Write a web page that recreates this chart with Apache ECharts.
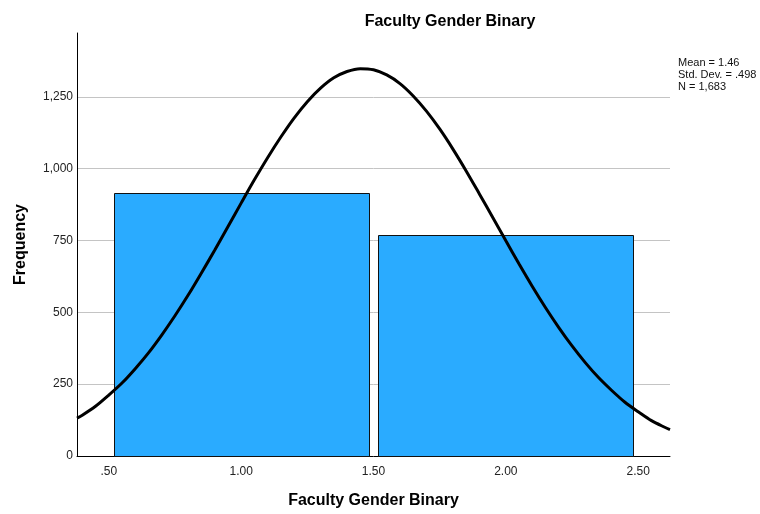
<!DOCTYPE html>
<html><head><meta charset="utf-8">
<script src="https://cdn.jsdelivr.net/npm/echarts@6/dist/echarts.min.js"></script>
<style>html,body{margin:0;padding:0;background:#fff}#c{width:760px;height:514px}</style>
</head><body><div id="c"></div>
<script>
// Histogram bins [start, end] and frequencies
const binStart = [0.5, 1.5];
const binEnd = [1.5, 2.5];
const freq = [915, 768];
// Normal curve
const curveX = [0.38,0.4,0.45,0.5,0.55,0.6,0.65,0.7,0.75,0.8,0.85,0.9,0.95,1.0,1.05,1.1,1.15,1.2,1.25,1.3,1.35,1.4,1.45,1.5,1.55,1.6,1.65,1.7,1.75,1.8,1.85,1.9,1.95,2.0,2.05,2.1,2.15,2.2,2.25,2.3,2.35,2.4,2.45,2.5,2.55,2.6,2.62];
const curveY = [132,142,173,212,254,304,359,421,488,560,637,716,798,880,961,1038,1110,1176,1233,1280,1316,1338,1348,1344,1326,1296,1253,1200,1138,1068,992,912,831,749,668,590,516,447,383,325,273,228,187,154,123,100,92];
const xTicks = [0.5, 1.0, 1.5, 2.0, 2.5];
const yTicks = [0, 250, 500, 750, 1000, 1250];
const gridVals = [250, 500, 750, 1000, 1250];
const statsLines = ['Mean = 1.46', 'Std. Dev. = .498', 'N = 1,683'];
const title = 'Faculty Gender Binary';
const xName = 'Faculty Gender Binary';
const yName = 'Frequency';

const FONT = 'Liberation Sans, Arial, sans-serif';
const chart = echarts.init(document.getElementById('c'), null, {renderer: 'canvas'});
const barData = binStart.map((s, i) => [s, binEnd[i], freq[i]]);
const curveData = curveX.map((x, i) => [x, curveY[i]]);

chart.setOption({
  animation: false,
  backgroundColor: '#fff',
  title: {text: title, left: 445, top: 9, textAlign: 'center',
    textStyle: {fontFamily: FONT, fontSize: 16, fontWeight: 'bold', color: '#000'}},
  grid: {left: 77, right: 90, top: 33, bottom: 50, containLabel: false},
  xAxis: {type: 'value', min: 0.38, max: 2.62,
    name: xName, nameLocation: 'middle', nameGap: 37,
    nameTextStyle: {fontFamily: FONT, fontSize: 16, fontWeight: 'bold', color: '#000'},
    axisLine: {show: true, lineStyle: {color: '#000', width: 1}},
    axisTick: {show: false}, splitLine: {show: false},
    axisLabel: {customValues: xTicks, fontFamily: FONT, fontSize: 12, color: '#222', margin: 10,
      formatter: v => v.toFixed(2).replace(/^0/, '')}},
  yAxis: {type: 'value', min: 0, max: 1472,
    name: yName, nameLocation: 'middle', nameGap: 48, nameRotate: 90,
    nameTextStyle: {fontFamily: FONT, fontSize: 16, fontWeight: 'bold', color: '#000'},
    axisLine: {show: true, lineStyle: {color: '#000', width: 1}},
    axisTick: {show: false}, splitLine: {show: false},
    axisLabel: {customValues: yTicks, fontFamily: FONT, fontSize: 12, color: '#222', margin: 4,
      formatter: v => v.toLocaleString('en-US')}},
  series: [
    {type: 'line', data: [], z: 0, silent: true,
     markLine: {silent: true, z: 0, symbol: 'none', label: {show: false},
       lineStyle: {color: '#c4c4c4', width: 1, type: 'solid'},
       data: gridVals.map(v => ({yAxis: v}))}},
    {type: 'custom', z: 2, data: barData,
     renderItem: (params, api) => {
       const p0 = api.coord([api.value(0), api.value(2)]);
       const p1 = api.coord([api.value(1), 0]);
       const inset = 5;
       return {type: 'rect', shape: {x: Math.round(p0[0] + inset) + 0.5, y: Math.round(p0[1]) + 0.5,
           width: Math.round(p1[0] - p0[0] - 2 * inset), height: Math.round(p1[1] - p0[1])},
         style: {fill: '#2aabff', stroke: '#111', lineWidth: 1}};
     }},
    {type: 'line', z: 3, data: curveData, smooth: 0.3, symbol: 'none',
     lineStyle: {color: '#000', width: 3}}
  ],
  graphic: [{type: 'text', left: 678, top: 57, z: 10,
    style: {text: statsLines.join('\n'), font: '11px ' + FONT, fill: '#111', lineHeight: 12}}]
});
</script></body></html>
